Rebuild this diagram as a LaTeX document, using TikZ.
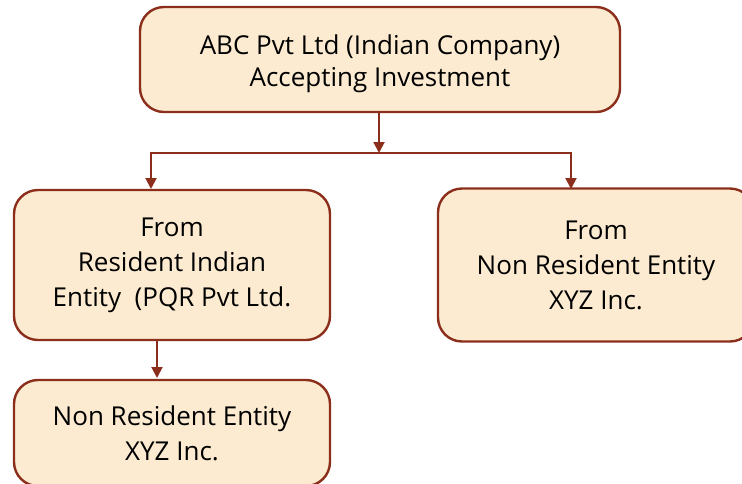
\documentclass[tikz,border=0pt]{standalone}
\usepackage{fontspec}
\setmainfont{Open Sans}
\usetikzlibrary{arrows.meta}
\definecolor{edgeRed}{HTML}{8B2E1C}
\definecolor{boxFill}{HTML}{FCEBD0}
\begin{document}
\begin{tikzpicture}[x=1pt,y=-1pt,
  box/.style={draw=edgeRed,fill=boxFill,line width=2.4pt,rounded corners=24pt,
    align=center,inner sep=0pt,font=\fontsize{26}{35}\selectfont},
  conn/.style={draw=edgeRed,line width=2pt},
  arr/.style={conn,-{Triangle[length=11pt,width=11pt]}}]
\useasboundingbox (0,0) rectangle (742,483);
\clip (0,0) rectangle (742,483);
\node[box,minimum width=480pt,minimum height=105pt] (top) at (380,59.5)
  {\raisebox{-4pt}[\height][\depth]{\begin{tabular}{@{}c@{}}ABC Pvt Ltd (Indian Company)\\[-3pt]Accepting Investment\end{tabular}}};
\node[box,minimum width=316pt,minimum height=150pt] (left) at (172,265)
  {From\\Resident Indian\\Entity\ \ (PQR Pvt Ltd.};
\node[box,minimum width=316pt,minimum height=153pt] (right) at (596,265)
  {From\\Non Resident Entity\\XYZ Inc.};
\node[box,minimum width=316pt,minimum height=106pt] (bottom) at (172,433)
  {Non Resident Entity\\XYZ Inc.};
\coordinate (split) at (379,153);
\draw[arr] (top.south -| split) -- (split);
\draw[arr] (split) -| (151,189);
\draw[arr] (split) -| (571,189);
\draw[arr] (157,340) -- (157,378);
\end{tikzpicture}
\end{document}
